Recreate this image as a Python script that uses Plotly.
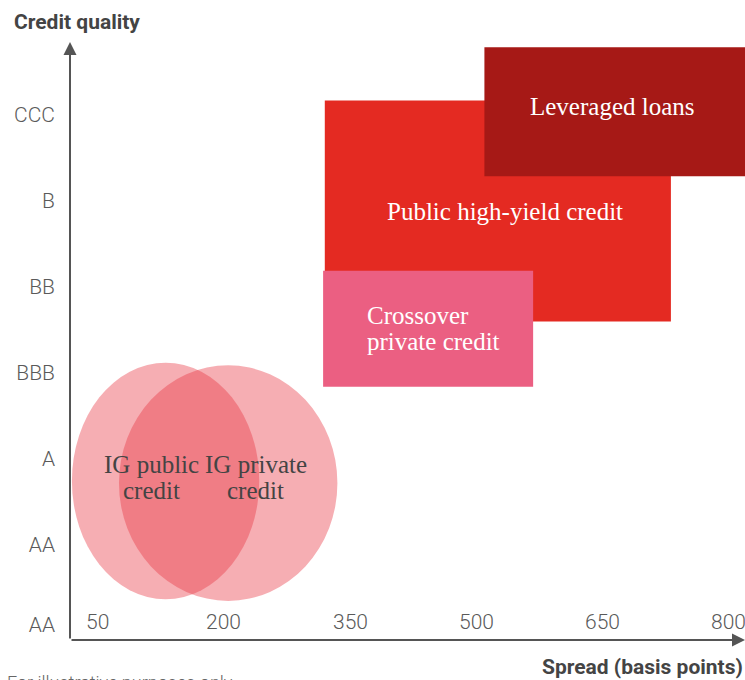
import plotly.graph_objects as go

# ---- data ----
rect_names = ["Public high-yield credit", "Leveraged loans", "Crossover private credit"]
rect_x0 = [320, 510, 318]
rect_x1 = [732, 830, 568]
rect_y0 = [3.60, 5.29, 2.84]
rect_y1 = [6.17, 6.79, 4.19]
rect_colors = ["#e42a22", "#a61916", "#eb5f82"]
rect_label_x = [534, 662, 368]
rect_label_y = [4.88, 6.10, 3.52]
rect_label_lines = [["Public high-yield credit"], ["Leveraged loans"], ["Crossover", "private credit"]]
rect_label_anchor = ["center", "center", "left"]

ell_names = ["IG public credit", "IG private credit"]
ell_x0 = [19, 75]
ell_x1 = [242, 335]
ell_y0 = [0.37, 0.35]
ell_y1 = [3.12, 3.09]
ell_label_x = [114, 238]
ell_label_y = [1.79, 1.78]
ell_label_lines = [["IG public", "credit"], ["IG private", "credit"]]

x_ticks = [50, 200, 350, 500, 650, 800]
x_tick_text = ["50", "200", "350", "500", "650", "800"]
y_tick_vals = [0.07, 1, 2, 3, 4, 5, 6]
y_tick_text = ["AA", "AA", "A", "BBB", "BB", "B", "CCC"]

X_RANGE = [16.7, 820.2]
Y_RANGE = [-0.105, 6.85]

SERIF = "Liberation Serif, Times New Roman, serif"
SANS = "Roboto, Arial, sans-serif"
LINE_GAP = 26  # px between label lines
TICK_FONT = dict(family=SANS, size=21, color="#5a5a5a", weight=300)

fig = go.Figure()
fig.add_trace(go.Scatter(x=X_RANGE, y=Y_RANGE, mode="markers",
                         marker=dict(opacity=0), hoverinfo="skip", showlegend=False))

shapes = []
for x0, x1, y0, y1, c in zip(rect_x0, rect_x1, rect_y0, rect_y1, rect_colors):
    shapes.append(dict(type="rect", xref="x", yref="y", x0=x0, x1=x1, y0=y0, y1=y1,
                       fillcolor=c, line=dict(width=0), layer="above"))
for x0, x1, y0, y1 in zip(ell_x0, ell_x1, ell_y0, ell_y1):
    shapes.append(dict(type="circle", xref="x", yref="y", x0=x0, x1=x1, y0=y0, y1=y1,
                       fillcolor="rgb(232,52,64)", opacity=0.4, line=dict(width=0), layer="above"))

annotations = []


def add_lines(tx, ty, lines, anchor, color):
    n = len(lines)
    for i, line in enumerate(lines):
        shift = ((n - 1) / 2 - i) * LINE_GAP
        annotations.append(dict(x=tx, y=ty, xref="x", yref="y", text=line, showarrow=False,
                                xanchor=anchor, yanchor="middle", yshift=shift,
                                font=dict(family=SERIF, size=25, color=color)))


for tx, ty, lines, a in zip(rect_label_x, rect_label_y, rect_label_lines, rect_label_anchor):
    add_lines(tx, ty, lines, a, "white")
for tx, ty, lines in zip(ell_label_x, ell_label_y, ell_label_lines):
    add_lines(tx, ty, lines, "center", "#444444")

# x tick labels sit just above the x axis line
for v, t in zip(x_ticks, x_tick_text):
    annotations.append(dict(x=v, y=Y_RANGE[0], xref="x", yref="y", text=t, showarrow=False,
                            xanchor="center", yanchor="bottom", yshift=4, font=TICK_FONT))

# axis arrows
annotations.append(dict(x=X_RANGE[1], y=Y_RANGE[0], ax=X_RANGE[0], ay=Y_RANGE[0],
                        xref="x", yref="y", axref="x", ayref="y", text="", showarrow=True,
                        arrowhead=2, arrowsize=1.3, arrowwidth=2, arrowcolor="#555555"))
annotations.append(dict(x=X_RANGE[0], y=Y_RANGE[1], ax=X_RANGE[0], ay=Y_RANGE[0],
                        xref="x", yref="y", axref="x", ayref="y", text="", showarrow=True,
                        arrowhead=2, arrowsize=1.3, arrowwidth=2, arrowcolor="#555555"))

annotations.append(dict(x=-0.086, y=1.033, xref="paper", yref="paper", text="<b>Credit quality</b>",
                        showarrow=False, xanchor="left", yanchor="middle",
                        font=dict(family=SANS, size=21, color="#444444")))
annotations.append(dict(x=1.0, y=-0.045, xref="paper", yref="paper", text="<b>Spread (basis points)</b>",
                        showarrow=False, xanchor="right", yanchor="middle",
                        font=dict(family=SANS, size=21, color="#444444")))
annotations.append(dict(x=-0.097, y=-0.050, xref="paper", yref="paper", text="For illustrative purposes only",
                        showarrow=False, xanchor="left", yanchor="top",
                        font=dict(family=SANS, size=18, color="#666666", weight=300)))

fig.update_layout(
    width=745, height=680,
    margin=dict(l=70, r=0, t=42, b=40),
    paper_bgcolor="white", plot_bgcolor="white",
    shapes=shapes, annotations=annotations, showlegend=False,
    xaxis=dict(range=X_RANGE, showticklabels=False, showgrid=False, zeroline=False,
               showline=False, ticks="", fixedrange=True),
    yaxis=dict(range=Y_RANGE, tickvals=y_tick_vals, ticktext=y_tick_text,
               showgrid=False, zeroline=False, showline=False, ticks="",
               ticklabelstandoff=14, tickfont=TICK_FONT, fixedrange=True),
)

fig.write_html("out.html", config={"displayModeBar": False},
               post_script="document.body.style.margin='0';document.body.style.overflow='hidden';")
